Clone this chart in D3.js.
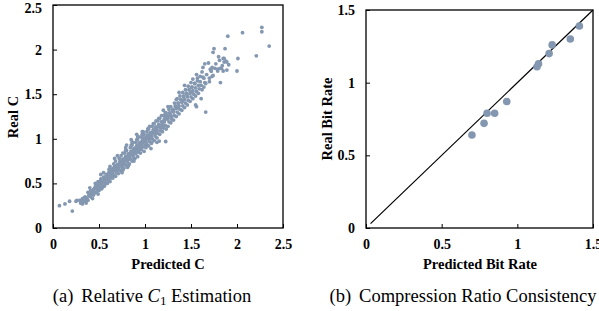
<!DOCTYPE html>
<html>
<head>
<meta charset="utf-8">
<script src="https://cdn.jsdelivr.net/npm/d3@7"></script>
<style>
  body { margin: 0; background: #fff; }
  svg { display: block; }
  .tick text { font-family: "Liberation Serif", serif; font-weight: bold; font-size: 14px; fill: #000; }
  .title { font-family: "Liberation Serif", serif; font-weight: bold; font-size: 14.5px; }
  .caption { font-family: "Liberation Serif", serif; font-size: 18.5px; }
</style>
</head>
<body>
<script>
// (a) predicted C vs real C
var predC = [0.07,0.13,0.18,0.21,0.25,0.26,0.29,0.30,0.31,0.32,0.33,0.32,0.35,0.36,0.35,0.34,0.36,
  0.38,0.39,0.38,0.37,0.39,0.41,0.42,0.41,0.40,0.42,0.43,0.44,0.45,0.44,0.46,0.45,0.44,
  0.47,0.48,0.47,0.46,0.48,0.49,0.47,0.50,0.51,0.50,0.49,0.52,0.50,0.51,0.50,
  0.53,0.54,0.53,0.52,0.55,0.53,0.54,0.52,0.56,0.57,0.56,0.55,0.58,0.56,0.57,0.55,
  0.59,0.60,0.59,0.58,0.61,0.60,0.59,0.61,0.62,0.63,0.62,0.61,0.64,0.62,0.63,0.61,0.64,
  0.65,0.66,0.65,0.64,0.67,0.66,0.65,0.66,0.68,0.69,0.68,0.67,0.70,0.68,0.69,0.70,0.67,
  0.71,0.72,0.71,0.70,0.73,0.72,0.71,0.72,0.70,0.74,0.75,0.74,0.73,0.76,0.74,0.75,0.73,0.76,0.75,
  0.77,0.78,0.77,0.76,0.79,0.78,0.77,0.78,0.79,0.76,0.80,0.81,0.80,0.79,0.82,0.80,0.81,0.82,0.79,0.81,0.80,
  0.83,0.84,0.83,0.82,0.85,0.84,0.83,0.84,0.85,0.86,0.82,0.86,0.87,0.86,0.85,0.88,0.86,0.87,0.88,0.87,0.85,0.88,
  0.89,0.90,0.89,0.88,0.91,0.90,0.89,0.90,0.91,0.92,0.88,0.92,0.93,0.92,0.91,0.94,0.92,0.93,0.94,0.93,0.91,
  0.95,0.96,0.95,0.94,0.97,0.96,0.95,0.96,0.97,0.98,0.99,0.98,0.97,1.00,0.98,0.99,1.00,0.99,0.97,
  1.01,1.02,1.01,1.00,1.03,1.02,1.01,1.02,1.03,1.04,1.05,1.04,1.03,1.06,1.04,1.05,1.06,1.05,1.07,1.065,
  1.07,1.08,1.07,1.06,1.09,1.08,1.07,1.09,1.10,1.11,1.10,1.09,1.12,1.10,1.11,1.12,1.13,
  1.13,1.14,1.13,1.12,1.15,1.14,1.13,1.15,1.16,1.17,1.16,1.15,1.18,1.16,1.17,1.18,1.155,
  1.19,1.20,1.19,1.18,1.21,1.20,1.19,1.22,1.23,1.22,1.21,1.24,1.22,1.23,1.225,1.20,
  1.25,1.26,1.25,1.24,1.27,1.26,1.25,1.28,1.29,1.28,1.27,1.30,1.28,1.29,
  1.31,1.32,1.31,1.30,1.33,1.32,1.34,1.35,1.34,1.33,1.36,1.34,1.35,
  1.37,1.38,1.37,1.36,1.39,1.38,1.37,1.40,1.41,1.40,1.39,1.42,1.41,
  1.43,1.44,1.43,1.42,1.45,1.44,1.43,1.46,1.47,1.46,1.45,1.48,1.47,
  1.49,1.50,1.49,1.48,1.51,1.50,1.52,1.53,1.52,1.51,1.54,1.52,
  1.55,1.56,1.55,1.54,1.57,1.56,1.55,1.56,1.58,1.59,1.58,1.57,1.60,
  1.61,1.62,1.61,1.60,1.63,1.62,1.64,1.65,1.64,1.63,1.66,1.67,1.66,1.65,
  1.70,1.71,1.69,1.72,1.70,1.73,1.74,1.72,1.73,1.76,1.75,1.74,1.77,
  1.79,1.80,1.82,1.83,1.81,1.85,1.84,1.86,1.85,1.87,1.89,1.88,1.91,1.90,1.89,1.86,1.815,1.79,
  2.00,2.01,2.06,2.21,2.27,2.27,2.35,
  // extra points filling the dense middle of the band
  0.43,0.48,0.54,0.58,0.63,0.66,0.69,0.72,0.75,0.78,0.81,0.84,0.87,0.90,0.93,0.96,0.99,1.02,
  0.45,0.51,0.56,0.60,0.64,0.68,0.71,0.74,0.77,0.80,0.83,0.86,0.89,0.92,0.95,0.98,1.01,1.04,
  1.08,1.12,1.16,1.21,1.26,1.31,1.36,1.41,1.46,1.51];
var realC = [0.25,0.27,0.30,0.19,0.30,0.31,0.31,0.28,0.30,0.27,0.30,0.33,0.30,0.32,0.35,0.34,0.28,
  0.31,0.36,0.40,0.33,0.38,0.35,0.38,0.42,0.45,0.40,0.33,0.37,0.40,0.43,0.46,0.39,0.42,
  0.40,0.43,0.46,0.50,0.44,0.38,0.48,0.42,0.45,0.48,0.52,0.55,0.47,0.44,0.50,
  0.44,0.47,0.50,0.53,0.57,0.49,0.46,0.60,0.47,0.50,0.53,0.56,0.60,0.52,0.55,0.62,
  0.50,0.53,0.56,0.59,0.63,0.55,0.58,0.66,0.52,0.56,0.59,0.62,0.66,0.69,0.58,0.61,0.64,
  0.56,0.59,0.62,0.65,0.69,0.72,0.60,0.67,0.58,0.62,0.65,0.68,0.71,0.75,0.64,0.70,0.78,
  0.61,0.65,0.68,0.71,0.74,0.78,0.67,0.72,0.81,0.64,0.68,0.71,0.74,0.77,0.81,0.70,0.75,0.84,0.62,
  0.67,0.71,0.74,0.77,0.80,0.84,0.73,0.78,0.87,0.65,0.70,0.74,0.77,0.80,0.83,0.87,0.76,0.81,0.90,0.68,0.93,
  0.72,0.77,0.80,0.83,0.86,0.90,0.79,0.84,0.93,0.96,0.70,0.75,0.80,0.83,0.86,0.89,0.93,0.82,0.87,0.96,0.99,0.78,
  0.78,0.83,0.86,0.89,0.92,0.96,0.85,0.90,0.99,1.02,0.75,0.80,0.85,0.89,0.92,0.95,0.99,0.87,0.93,1.02,1.05,
  0.84,0.88,0.92,0.95,0.98,1.02,0.90,0.96,1.05,1.08,0.86,0.91,0.95,0.98,1.01,1.05,0.93,0.99,1.08,
  0.90,0.94,0.98,1.01,1.04,1.08,0.96,1.02,1.11,0.92,0.97,1.01,1.04,1.07,1.11,1.00,1.05,1.14,0.96,0.89,
  0.95,1.00,1.04,1.07,1.10,1.14,1.03,1.17,0.98,1.03,1.07,1.10,1.13,1.17,1.06,1.20,0.96,
  1.01,1.06,1.10,1.13,1.16,1.20,1.09,1.23,1.05,1.09,1.13,1.16,1.19,1.23,1.12,1.26,0.975,
  1.08,1.12,1.16,1.19,1.22,1.26,1.15,1.29,1.11,1.15,1.19,1.22,1.25,1.29,0.97,1.32,
  1.14,1.19,1.23,1.26,1.29,1.33,1.36,1.18,1.22,1.26,1.29,1.32,1.36,1.25,
  1.21,1.26,1.30,1.33,1.36,1.40,1.25,1.30,1.34,1.37,1.40,1.44,1.45,
  1.28,1.33,1.37,1.40,1.44,1.48,1.52,1.32,1.37,1.41,1.44,1.48,1.52,
  1.35,1.40,1.44,1.47,1.51,1.55,1.60,1.38,1.43,1.47,1.51,1.55,1.59,
  1.42,1.47,1.51,1.55,1.58,1.63,1.45,1.50,1.54,1.58,1.62,1.67,
  1.48,1.53,1.57,1.62,1.68,1.72,1.38,1.36,1.51,1.56,1.60,1.65,1.70,
  1.45,1.55,1.60,1.64,1.69,1.75,1.58,1.63,1.68,1.80,1.62,1.72,1.30,1.84,
  1.64,1.78,1.85,1.76,1.68,1.80,1.97,1.76,1.70,1.79,2.01,1.71,1.84,
  1.76,1.92,1.63,1.79,1.88,1.76,1.82,1.86,1.90,2.01,1.77,1.87,1.83,2.15,1.86,1.90,1.79,1.78,
  1.76,1.90,2.19,1.93,2.25,2.20,2.04,
  0.41,0.45,0.515,0.555,0.605,0.645,0.675,0.705,0.735,0.765,0.795,0.825,0.855,0.885,0.915,0.945,0.975,1.005,
  0.445,0.485,0.535,0.575,0.625,0.665,0.695,0.725,0.755,0.785,0.815,0.845,0.875,0.905,0.935,0.965,0.995,1.025,
  1.065,1.105,1.145,1.205,1.255,1.315,1.355,1.425,1.485,1.525];

// (b) predicted vs real bit rate
var predBit = [1.41,1.35,1.23,1.21,1.14,1.13,0.93,0.85,0.80,0.78,0.70];
var realBit = [1.39,1.30,1.26,1.20,1.13,1.11,0.87,0.79,0.79,0.72,0.64];

var ticksA = [0, 0.5, 1, 1.5, 2, 2.5];
var ticksB = [0, 0.5, 1, 1.5];
var idealLine = [0.03, 1.5];

var dotColor = "#8497b0";
var fmt = function(d){ return d3.format("")(d); };

var svg = d3.select("body").append("svg")
  .attr("width", 599)
  .attr("height", 311);

function drawPanel(opt){
  var x = d3.scaleLinear().domain(opt.domain).range([opt.left, opt.right]);
  var y = d3.scaleLinear().domain(opt.domain).range([opt.bottom, opt.top]);
  var g = svg.append("g");

  // axes, ticks pointing into the box
  g.append("g")
    .attr("transform", "translate(0," + opt.bottom + ")")
    .call(d3.axisBottom(x).tickValues(opt.ticks).tickSize(-4).tickPadding(11).tickFormat(fmt))
    .call(function(a){ a.select(".domain").remove(); });
  var ya = g.append("g")
    .attr("transform", "translate(" + opt.left + ",0)")
    .call(d3.axisLeft(y).tickValues(opt.ticks).tickSize(-4).tickPadding(11).tickFormat(fmt))
    .call(function(a){ a.select(".domain").remove(); });
  // keep the top label inside the page
  ya.selectAll(".tick text").filter(function(d){ return y(d) < 8; }).attr("dy", "0.5em");
  g.selectAll(".tick line").attr("stroke", "#000");

  // frame
  g.append("rect")
    .attr("x", opt.left).attr("y", opt.top)
    .attr("width", opt.right - opt.left)
    .attr("height", opt.bottom - opt.top)
    .attr("fill", "none").attr("stroke", "#000").attr("stroke-width", 1.3);

  return {g: g, x: x, y: y};
}

// panel a
var pa = drawPanel({left: 53, right: 283, top: 5, bottom: 228, domain: [0, 2.5], ticks: ticksA});
pa.g.selectAll(".dot")
  .data(predC)
  .enter().append("circle")
  .attr("cx", function(d){ return pa.x(d); })
  .attr("cy", function(d, i){ return pa.y(realC[i]); })
  .attr("r", 1.9)
  .attr("fill", dotColor);

svg.append("text").attr("class", "title")
  .attr("x", 168).attr("y", 269).attr("text-anchor", "middle")
  .text("Predicted C");
svg.append("text").attr("class", "title")
  .attr("transform", "translate(18,117) rotate(-90)").attr("text-anchor", "middle")
  .text("Real C");

var capA = svg.append("text").attr("class", "caption")
  .attr("x", 152).attr("y", 302).attr("text-anchor", "middle");
capA.append("tspan").text("(a)");
capA.append("tspan").attr("dx", 8).text("Relative ");
capA.append("tspan").attr("font-style", "italic").text("C");
capA.append("tspan").attr("font-size", "13px").attr("dy", 3).text("1");
capA.append("tspan").attr("dy", -3).text(" Estimation");

// panel b
var pb = drawPanel({left: 366, right: 593, top: 10, bottom: 228, domain: [0, 1.5], ticks: ticksB});
pb.g.append("line")
  .attr("x1", pb.x(idealLine[0])).attr("y1", pb.y(idealLine[0]))
  .attr("x2", pb.x(idealLine[1])).attr("y2", pb.y(idealLine[1]))
  .attr("stroke", "#000").attr("stroke-width", 1.2);
pb.g.selectAll(".dot")
  .data(predBit)
  .enter().append("circle")
  .attr("cx", function(d){ return pb.x(d); })
  .attr("cy", function(d, i){ return pb.y(realBit[i]); })
  .attr("r", 3.8)
  .attr("fill", dotColor);

svg.append("text").attr("class", "title")
  .attr("x", 480).attr("y", 269).attr("text-anchor", "middle")
  .text("Predicted Bit Rate");
svg.append("text").attr("class", "title")
  .attr("transform", "translate(332,119) rotate(-90)").attr("text-anchor", "middle")
  .text("Real Bit Rate");

var capB = svg.append("text").attr("class", "caption")
  .attr("x", 463).attr("y", 302).attr("text-anchor", "middle");
capB.append("tspan").text("(b)");
capB.append("tspan").attr("dx", 8).text("Compression Ratio Consistency");
</script>
</body>
</html>
